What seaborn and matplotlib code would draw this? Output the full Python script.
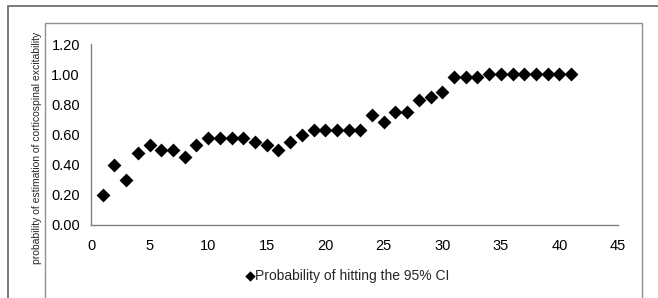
import numpy as np
import pandas as pd
import matplotlib
matplotlib.use('Agg')
import matplotlib.pyplot as plt
from matplotlib import font_manager
import seaborn as sns
from matplotlib.patches import Rectangle

# 数据
trials = list(range(1, 42))
prob_hit = [0.20, 0.40, 0.30, 0.48, 0.53, 0.50, 0.50, 0.45, 0.53, 0.58,
            0.58, 0.58, 0.58, 0.55, 0.53, 0.50, 0.55, 0.60, 0.63, 0.63,
            0.63, 0.63, 0.63, 0.73, 0.68, 0.75, 0.75, 0.83, 0.85, 0.88,
            0.98, 0.98, 0.98, 1.00, 1.00, 1.00, 1.00, 1.00, 1.00, 1.00,
            1.00]
series_name = 'Probability of hitting the 95% CI'
y_label = 'probability of estimation of corticospinal excitability'
x_ticks = [0, 5, 10, 15, 20, 25, 30, 35, 40, 45]
y_ticks = [0.0, 0.2, 0.4, 0.6, 0.8, 1.0, 1.2]

df = pd.DataFrame({'trial': trials, 'prob': prob_hit})

sns.set_style('white')
installed = {f.name for f in font_manager.fontManager.ttflist}
if 'Liberation Sans Narrow' in installed:
    main_font = ['Liberation Sans Narrow', 'DejaVu Sans']
    tick_size, leg_size = 11.5, 11.5
else:
    main_font = ['Liberation Sans', 'DejaVu Sans']
    tick_size, leg_size = 10.5, 10
plt.rcParams['font.family'] = main_font

W, H = 658, 298
fig = plt.figure(figsize=(W / 100, H / 100), dpi=100)
fig.patch.set_facecolor('white')

# 外框和内框
fig.patches.append(Rectangle((8 / W, -0.1), 1.1, 1 - 6 / H + 0.1, transform=fig.transFigure,
                             fill=False, edgecolor='#707070', linewidth=1.3))
fig.patches.append(Rectangle((45 / W, -0.1), (642 - 45) / W, 1 - 23 / H + 0.1,
                             transform=fig.transFigure, fill=False,
                             edgecolor='#909090', linewidth=1.0))

ax = fig.add_axes([91 / W, 1 - 225 / H, (618 - 91) / W, (225 - 44) / H])
sns.scatterplot(data=df, x='trial', y='prob', marker='D', color='black',
                s=50, edgecolor='black', linewidth=0, label=series_name, ax=ax)

ax.set_xlim(0, 45)
ax.set_ylim(0, 1.2)
ax.set_xticks(x_ticks)
ax.set_yticks(y_ticks)
ax.set_yticklabels([f'{v:.2f}' for v in y_ticks])
ax.set_xlabel('')
ax.set_ylabel('')
for s in ['top', 'right']:
    ax.spines[s].set_visible(False)
for s in ['left', 'bottom']:
    ax.spines[s].set_color('#808080')
    ax.spines[s].set_linewidth(1.0)
ax.tick_params(axis='both', direction='out', length=4, width=1, color='#808080',
               labelsize=tick_size, labelcolor='black')
ax.tick_params(axis='x', pad=6)
ax.tick_params(axis='y', pad=4)

fig.text(37 / W, 1 - 148 / H, y_label, rotation=90, ha='center', va='center',
         fontsize=7.5, family=['Liberation Sans', 'DejaVu Sans'])

ax.legend_.remove()
handles, labels = ax.get_legend_handles_labels()
leg = fig.legend(handles, labels, loc='center', bbox_to_anchor=(347 / W, 1 - 276 / H),
                 frameon=False, fontsize=leg_size, handletextpad=0.0, markerscale=0.75,
                 borderpad=0, handlelength=0.8)

fig.savefig('out.png', dpi=100)
